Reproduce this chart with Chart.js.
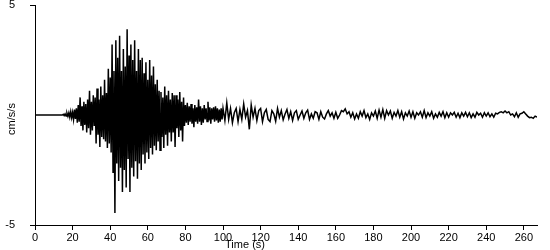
<!DOCTYPE html>
<html>
<head>
<meta charset="utf-8">
<script src="https://cdn.jsdelivr.net/npm/chart.js@4.4.1/dist/chart.umd.min.js"></script>
<style>
  html, body { margin: 0; padding: 0; background: #fff; }
  #wrap { width: 550px; height: 250px; }
</style>
</head>
<body>
<div id="wrap"><canvas id="accelChart"></canvas></div>
<script>
// strong-motion part, sampled every 0.5 s from t = 0 s (cm/s/s)
const earlyStep = 0.5;
const accelEarly = [
    0, 0, 0, 0, 0, 0, 0, 0, 0, 0,
    0, 0, 0, 0, 0, 0, 0, 0, 0, 0,
    0, 0, 0, 0,
    0, 0, 0, 0, 0, 0, 0.03, -0.03, 0.05, -0.04,
    0.08, -0.06, 0.1, -0.1, 0.15, -0.12, 0.12, -0.2, 0.25, -0.18,
    0.3, -0.35, 0.45, -0.3, 0.8, -0.5, 0.4, -0.7, 0.6, -0.45,
    0.5, -0.8, 0.7, -0.6, 1.1, -0.9, 0.6, -0.7, 0.9, -0.5,
    0.8, -1.3, 1.2, -0.9, 0.7, -1.45, 1.3, -1.0, 0.9, -1.1,
    1.6, -1.2, 1.0, -1.5, 2.1, -1.3, 1.7, -1.7, 3.2, -2.6,
    2.0, -4.45, 3.4, -2.2, 2.6, -3.0, 3.6, -2.4, 2.0, -3.5,
    3.0, -2.5, 2.2, -3.3, 3.9, -2.0, 2.7, -3.5, 3.2, -2.4,
    2.5, -2.8, 3.4, -2.1, 2.0, -2.9, 3.0, -2.2, 2.5, -2.5,
    2.6, -1.8, 1.9, -2.2, 2.4, -1.7, 1.6, -2.0, 2.5, -1.5,
    1.8, -1.8, 2.2, -1.4, 1.4, -1.6, 1.6, -1.2, 1.1, -1.6,
    1.05, -1.0, 0.8, -1.5, 1.3, -0.9, 0.9, -1.4, 1.1, -0.8,
    0.7, -1.2, 1.0, -0.8, 0.9, -1.45, 0.9, -0.6, 0.7, -1.0,
    1.05, -0.7, 0.6, -1.2, 0.8, -0.5, 0.45, -0.35, 0.55, -0.45,
    0.4, -0.3, 0.5, -0.4, 0.3, -0.55, 0.45, -0.3, 0.35, -0.4,
    0.7, -0.3, 0.4, -0.45, 0.3, -0.35, 0.45, -0.2, 0.3, -0.3,
    0.6, -0.25, 0.35, -0.4, 0.3, -0.2, 0.35, -0.3, 0.4, -0.25,
    0.3, -0.35, 0.25, -0.3, 0.3, -0.2
];
// coda, sampled every 1 s from t = 100 s (cm/s/s)
const lateStart = 100;
const lateStep = 1;
const accelLate = [
    0.3, -0.25, 0.55, -0.2, 0.3, -0.35, 0.1, 0.3, -0.3, 0.25,
    -0.2, 0.5, -0.1, 0.2, -0.65, 0.45, -0.1, 0.3, -0.25, 0.2,
    0.3, -0.3, 0.1, 0.25, -0.2, -0.3, 0.2, 0.05, -0.28, 0.3,
    -0.1, 0.2, -0.22, 0.05, 0.25, -0.15, 0.15, -0.25, 0.1, 0.2,
    -0.2, 0.0, 0.18, -0.15, 0.1, 0.22, -0.2, 0.05, -0.15, 0.15,
    0.1, -0.2, 0.15, -0.1, -0.18, 0.05, 0.2, -0.05, 0.1, -0.15,
    0.12, -0.15, 0.0, 0.2, 0.15, 0.28, 0.05, 0.15, -0.1, 0.1,
    -0.18, 0.05, -0.15, 0.15, -0.05, 0.2, -0.12, 0.05, -0.2, 0.1,
    -0.05, 0.18, -0.15, 0.22, -0.1, 0.25, -0.15, 0.2, 0.0, 0.18,
    -0.15, 0.12, -0.05, 0.2, -0.1, 0.15, -0.18, 0.1, -0.05, 0.18,
    -0.1, 0.15, -0.15, 0.1, 0.0, 0.15, -0.1, 0.2, -0.12, 0.1,
    -0.05, 0.15, -0.15, 0.05, -0.1, 0.12, -0.05, 0.15, -0.12, 0.1,
    -0.1, 0.1, 0.0, 0.12, -0.1, 0.08, -0.12, 0.1, -0.05, 0.12,
    -0.08, 0.1, -0.12, 0.05, -0.1, 0.12, 0.0, 0.08, -0.1, 0.1,
    -0.05, 0.1, -0.08, 0.05, -0.1, 0.08, 0.05, 0.12, 0.15, 0.1,
    0.18, 0.1, 0.15, 0.0, 0.05, -0.08, 0.1, -0.1, 0.05, 0.08,
    0.15, 0.05, -0.05, -0.12, -0.1, -0.15, -0.05, -0.1
];
const xTicks = [0, 20, 40, 60, 80, 100, 120, 140, 160, 180, 200, 220, 240, 260];
const yTicks = [-5, 5];

const points = accelEarly.map((v, i) => ({ x: i * earlyStep, y: v }))
    .concat(accelLate.map((v, i) => ({ x: lateStart + i * lateStep, y: v })));

const axisTitles = {
    id: "axisTitles",
    afterDraw(chart) {
        const ctx = chart.ctx;
        ctx.save();
        ctx.fillStyle = "#000";
        ctx.font = "11px 'Liberation Sans', Arial, sans-serif";
        ctx.textAlign = "center";
        ctx.textBaseline = "middle";
        ctx.fillText("Time (s)", 245, 245);
        ctx.translate(12, 119);
        ctx.rotate(-Math.PI / 2);
        ctx.fillText("cm/s/s", 0, 0);
        ctx.restore();
    }
};

new Chart(document.getElementById("accelChart"), {
    type: "line",
    data: {
        datasets: [{
            data: points,
            borderColor: "#000",
            borderWidth: 1.5,
            pointRadius: 0,
            tension: 0,
            fill: false,
        }],
    },
    options: {
        responsive: true,
        maintainAspectRatio: false,
        animation: false,
        events: [],
        layout: { autoPadding: false, padding: { top: 5, right: 13, left: 0, bottom: 0 } },
        plugins: { legend: { display: false }, tooltip: { enabled: false } },
        scales: {
            x: {
                type: "linear",
                min: 0,
                max: 267,
                afterFit: (s) => { s.height = 25; s.paddingLeft = 0; s.paddingRight = 0; },
                afterBuildTicks: (s) => { s.ticks = xTicks.map(v => ({ value: v })); },
                grid: { drawOnChartArea: false, color: "#000", tickLength: 5 },
                border: { color: "#000", width: 1 },
                ticks: {
                    color: "#000",
                    padding: 1,
                    maxRotation: 0,
                    autoSkip: false,
                    font: { family: "'Liberation Sans', Arial, sans-serif", size: 11 },
                },
            },
            y: {
                min: -5,
                max: 5,
                afterFit: (s) => { s.width = 35; s.paddingTop = 0; s.paddingBottom = 0; },
                afterBuildTicks: (s) => { s.ticks = yTicks.map(v => ({ value: v })); },
                grid: { drawOnChartArea: false, color: "#000", tickLength: 5 },
                border: { color: "#000", width: 1 },
                ticks: {
                    color: "#000",
                    padding: 15,
                    font: { family: "'Liberation Sans', Arial, sans-serif", size: 11 },
                },
            },
        },
    },
    plugins: [axisTitles],
});
</script>
</body>
</html>
